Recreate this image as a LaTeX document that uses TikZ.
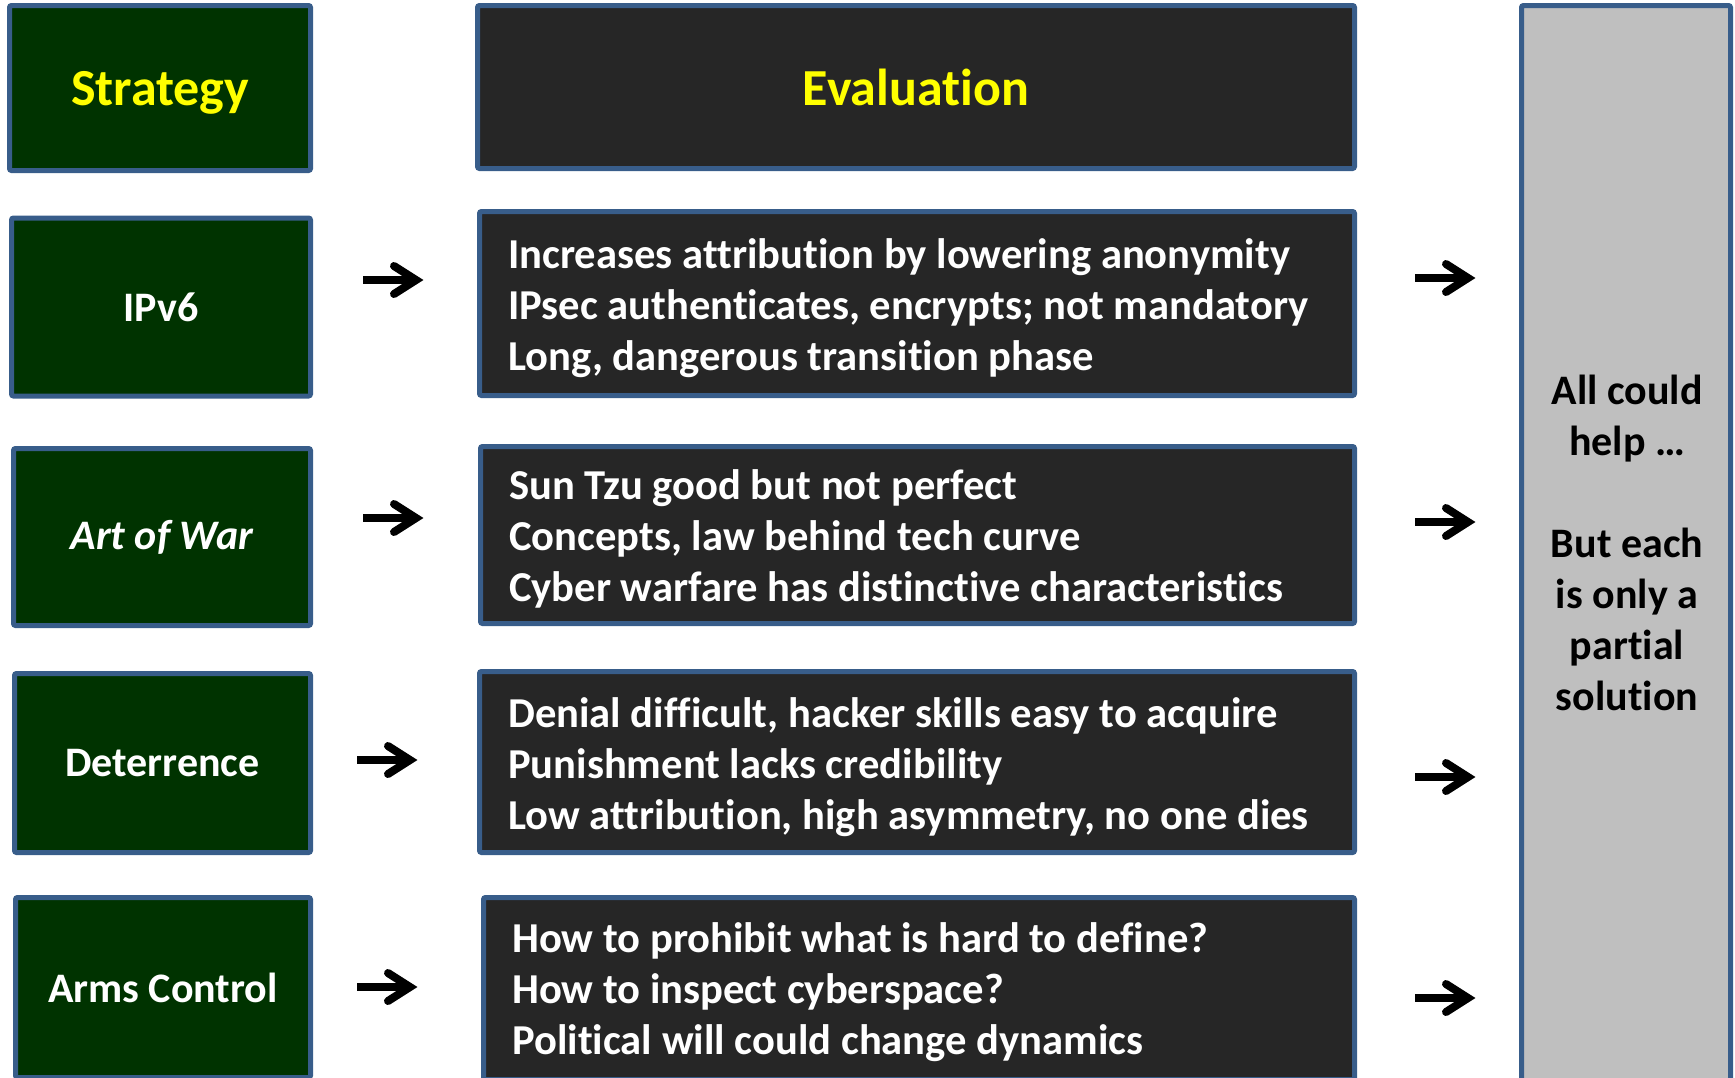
\documentclass[tikz,border=0pt]{standalone}
\usepackage{fontspec}
\setmainfont{Carlito}[Ligatures={NoCommon}]
\usetikzlibrary{calc}
\definecolor{frameblue}{HTML}{385D8A}
\definecolor{stratgreen}{HTML}{003300}
\definecolor{evalgray}{HTML}{262626}
\definecolor{sidegray}{HTML}{BFBFBF}
\definecolor{hdryellow}{HTML}{FFFF00}

% thick arrow: shaft plus two round-ended barbs; #1 = tail, #2 = tip
\newcommand\fatarrow[2]{%
  \draw[shaft] (#1) -- ($(#2)+(-2,0)$);
  \draw[barb] ($(#2)+(-22,-14)$) -- (#2) -- ($(#2)+(-22,14)$);
}

\begin{document}
\begin{tikzpicture}[x=1pt,y=-1pt,
  box/.style={draw=frameblue, line width=5pt, rounded corners=2pt, inner sep=0pt},
  stratbox/.style={box, fill=stratgreen, text=white, font=\bfseries\fontsize{42}{51}\selectfont},
  evalbox/.style={box, fill=evalgray},
  hdr/.style={text=hdryellow, text depth=0pt, font=\bfseries\fontsize{52}{60}\selectfont},
  evaltext/.style={anchor=west, align=left, text=white, inner sep=0pt,
    font=\bfseries\fontsize{42.6}{51}\selectfont},
  sidetext/.style={align=center, text=black, inner sep=0pt,
    font=\bfseries\fontsize{42}{51}\selectfont},
  shaft/.style={line width=8pt},
  barb/.style={line width=8pt, line cap=round, line join=miter},
]
\useasboundingbox (0,0) rectangle (1735,1077);
\clip (0,0) rectangle (1735,1077);

% header row
\node[stratbox, hdr, minimum width=301pt, minimum height=165pt] (sh) at (160,88) {Strategy};
\node[evalbox, hdr, minimum width=877pt, minimum height=163pt] (eh) at (916,87) {Evaluation};

% strategy column
\node[stratbox, minimum width=299pt, minimum height=178pt] (s1) at (161,307) {IPv6};
\node[stratbox, minimum width=297pt, minimum height=177pt] (s2) at (162,537) {\itshape Art of War};
\node[stratbox, minimum width=296pt, minimum height=179pt] (s3) at (162.5,763) {Deterrence};
\node[stratbox, minimum width=295pt, minimum height=180pt] (s4) at (163,987.5) {Arms Control};

% evaluation column
\node[evalbox, minimum width=875pt, minimum height=184pt] (e1) at (917,303.5) {};
\node[evalbox, minimum width=874pt, minimum height=177pt] (e2) at (917.5,535) {};
\node[evalbox, minimum width=875pt, minimum height=181pt] (e3) at (917,762) {};
\node[evalbox, minimum width=871pt, minimum height=182pt] (e4) at (919,988.5) {};

\node[evaltext] (t1) at (508,308.5) {Increases attribution by lowering anonymity\\IPsec authenticates, encrypts; not mandatory\\Long, dangerous transition phase};
\node[evaltext] (t2) at (509,539) {Sun Tzu good but not perfect\\Concepts, law behind tech curve\\Cyber warfare has distinctive characteristics};
\node[evaltext] (t3) at (508,767) {Denial difficult, hacker skills easy to acquire\\Punishment lacks credibility\\Low attribution, high asymmetry, no one dies};
\node[evaltext] (t4) at (512,992.5) {How to prohibit what is hard to define?\\How to inspect cyberspace?\\Political will could change dynamics};

% summary column
\node[box, fill=sidegray, minimum width=209pt, minimum height=1094pt] (side) at (1626,552.5) {};
\node[sidetext] (st) at (1627,543) {All could\\help …\\[51pt]But each\\is only a\\partial\\solution};

% arrows strategy -> evaluation
\coordinate (la1) at (363,280); \coordinate (lb1) at (416,280);
\coordinate (la2) at (363,518); \coordinate (lb2) at (416,518);
\coordinate (la3) at (357,760); \coordinate (lb3) at (410,760);
\coordinate (la4) at (357,987); \coordinate (lb4) at (410,987);
% arrows evaluation -> summary
\coordinate (ra1) at (1415,278); \coordinate (rb1) at (1468,278);
\coordinate (ra2) at (1415,522); \coordinate (rb2) at (1468,522);
\coordinate (ra3) at (1415,777); \coordinate (rb3) at (1468,777);
\coordinate (ra4) at (1415,998); \coordinate (rb4) at (1468,998);

\fatarrow{la1}{lb1}
\fatarrow{la2}{lb2}
\fatarrow{la3}{lb3}
\fatarrow{la4}{lb4}
\fatarrow{ra1}{rb1}
\fatarrow{ra2}{rb2}
\fatarrow{ra3}{rb3}
\fatarrow{ra4}{rb4}
\end{tikzpicture}
\end{document}
